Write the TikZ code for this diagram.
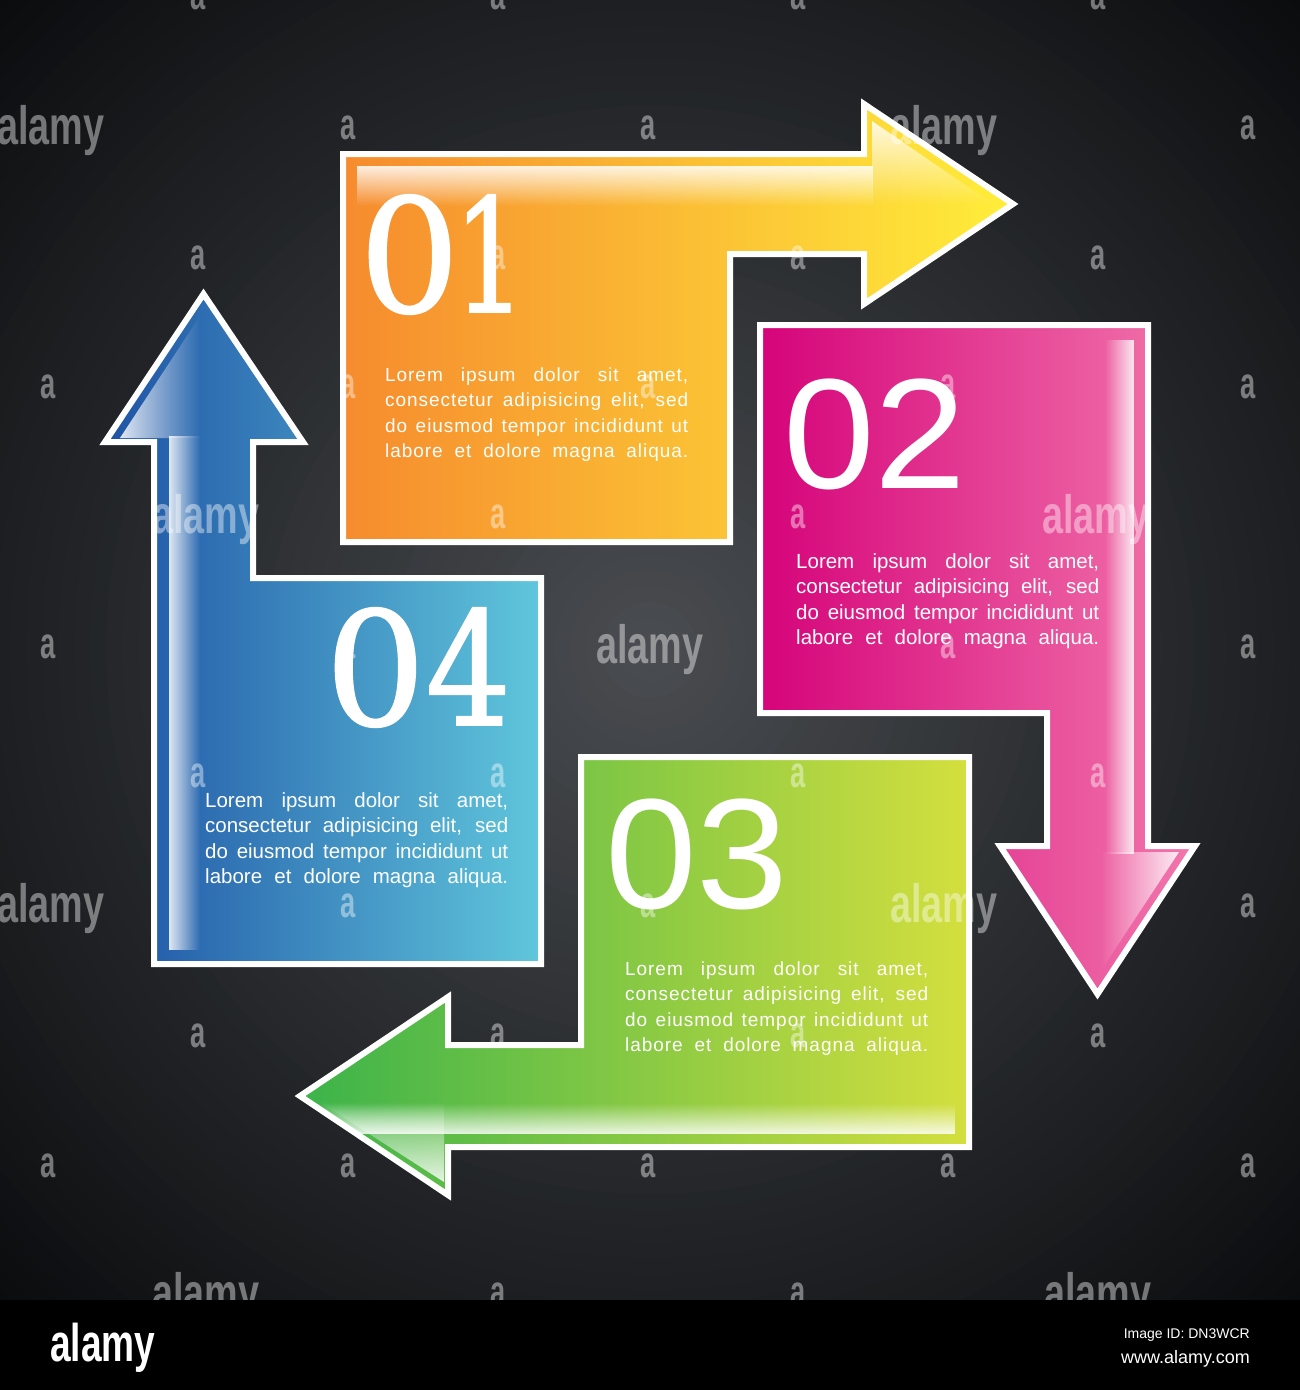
\documentclass[tikz,border=0pt]{standalone}
\usepackage{fontspec}
\setmainfont{Liberation Sans}
\newfontfamily\numserif[FakeBold=1.2]{DejaVu Serif}
\newfontfamily\numsans[FakeStretch=1.05]{Liberation Sans}
\newfontfamily\bodyA[LetterSpace=5]{Liberation Sans}
\newfontfamily\bodyB{Liberation Sans}
\newfontfamily\wmbig[FakeStretch=0.70]{Liberation Sans Bold}
\newfontfamily\wmsmall[FakeStretch=0.62]{Liberation Sans Bold}
\usetikzlibrary{fadings}
\definecolor{bgA}{HTML}{4A4D51}
\definecolor{bgC}{HTML}{1E2023}
\definecolor{bgD}{HTML}{0A0B0D}
\definecolor{oA}{HTML}{F68B2E}
\definecolor{oB}{HTML}{FFEE3A}
\definecolor{pA}{HTML}{D5037A}
\definecolor{pB}{HTML}{F277AC}
\definecolor{gA}{HTML}{3BB34A}
\definecolor{gB}{HTML}{D4DF3E}
\definecolor{bA}{HTML}{1F53A5}
\definecolor{bB}{HTML}{60C7DC}
\tikzfading[name=fdown, top color=transparent!15, bottom color=transparent!100]
\tikzfading[name=fup, bottom color=transparent!15, top color=transparent!100]
\tikzfading[name=fleft, left color=transparent!15, right color=transparent!100]
\tikzfading[name=fright, right color=transparent!15, left color=transparent!100]
\newcommand{\loremblock}{%
  \parbox[t]{303pt}{%
  \makebox[303pt][s]{Lorem ipsum dolor sit amet,}\\
  \makebox[303pt][s]{consectetur adipisicing elit, sed}\\
  \makebox[303pt][s]{do eiusmod tempor incididunt ut}\\
  \makebox[303pt][s]{labore et dolore magna aliqua.}}}
\begin{document}
\begin{tikzpicture}[x=1pt,y=-1pt,
  shapeborder/.style={draw=white, line width=6pt, line join=miter},
  hilite/.style={fill=white, draw=none},
  numA/.style={text=white, inner sep=0pt, anchor=base west, font=\numserif\fontsize{158}{158}\selectfont},
  numB/.style={text=white, inner sep=0pt, anchor=base west, font=\numsans\fontsize{157}{157}\selectfont},
  bodyone/.style={text=white, inner sep=0pt, anchor=base west, font=\bodyA\fontsize{19}{25.6}\selectfont},
  bodytwo/.style={text=white, inner sep=0pt, anchor=base west, font=\bodyB\fontsize{20.5}{25.6}\selectfont},
  wma/.style={text=white, opacity=0.42, inner sep=0pt, font=\wmsmall\fontsize{44}{44}\selectfont},
  wmalamy/.style={text=white, opacity=0.42, inner sep=0pt, anchor=base, font=\wmbig\fontsize{54}{54}\selectfont}]
\useasboundingbox (0,0) rectangle (1300,1390);
\clip (0,0) rectangle (1300,1390);
% background: radial darkening built from concentric discs
\fill[bgD] (0,0) rectangle (1300,1300);
\foreach \i in {0,...,59}{
  \pgfmathsetmacro{\rr}{960-16*\i}
  \pgfmathsetmacro{\pa}{min(100,max(0,(\rr-640)/3))}
  \pgfmathsetmacro{\pb}{min(100,\rr/6.4)}
  \ifdim\rr pt>640pt
    \fill[bgD!\pa!bgC] (650,650) circle (\rr);
  \else
    \fill[bgC!\pb!bgA] (650,650) circle (\rr);
  \fi
}
% shape 01
\path[left color=oA, right color=oB] (343,154) -- (864,154) -- (864,104) -- (1013,204) -- (864,304) -- (864,254) -- (730,254) -- (730,542) -- (343,542) -- cycle;
\begin{scope}
\clip (343,154) -- (864,154) -- (864,104) -- (1013,204) -- (864,304) -- (864,254) -- (730,254) -- (730,542) -- (343,542) -- cycle;
\fill[hilite, path fading=fdown] (357,166) rectangle (874,206);
\fill[hilite, path fading=fdown] (872,121) -- (993,204) -- (872,204) -- cycle;
\end{scope}
\draw[shapeborder] (343,154) -- (864,154) -- (864,104) -- (1013,204) -- (864,304) -- (864,254) -- (730,254) -- (730,542) -- (343,542) -- cycle;
% shape 02
\path[left color=pA, right color=pB] (760,325) -- (1148,325) -- (1148,846) -- (1195,846) -- (1097.5,994) -- (1000,846) -- (1047,846) -- (1047,713) -- (760,713) -- cycle;
\begin{scope}
\clip (760,325) -- (1148,325) -- (1148,846) -- (1195,846) -- (1097.5,994) -- (1000,846) -- (1047,846) -- (1047,713) -- (760,713) -- cycle;
\fill[hilite, path fading=fright] (1105,340) rectangle (1134,854);
\fill[hilite, path fading=fright] (1103,852) -- (1179,852) -- (1100,972) -- cycle;
\end{scope}
\draw[shapeborder] (760,325) -- (1148,325) -- (1148,846) -- (1195,846) -- (1097.5,994) -- (1000,846) -- (1047,846) -- (1047,713) -- (760,713) -- cycle;
% shape 03
\path[left color=gA, right color=gB] (969,757) -- (969,1147) -- (448,1147) -- (448,1195) -- (300,1096) -- (448,997) -- (448,1045) -- (581,1045) -- (581,757) -- cycle;
\begin{scope}
\clip (969,757) -- (969,1147) -- (448,1147) -- (448,1195) -- (300,1096) -- (448,997) -- (448,1045) -- (581,1045) -- (581,757) -- cycle;
\fill[hilite, path fading=fup] (318,1103) rectangle (956,1134);
\fill[hilite, path fading=fup] (318,1101) -- (444,1101) -- (444,1182) -- cycle;
\end{scope}
\draw[shapeborder] (969,757) -- (969,1147) -- (448,1147) -- (448,1195) -- (300,1096) -- (448,997) -- (448,1045) -- (581,1045) -- (581,757) -- cycle;
% shape 04
\path[left color=bA, right color=bB] (154,964) -- (541,964) -- (541,578) -- (253,578) -- (253,442) -- (303,442) -- (203.5,294) -- (105,442) -- (154,442) -- cycle;
\begin{scope}
\clip (154,964) -- (541,964) -- (541,578) -- (253,578) -- (253,442) -- (303,442) -- (203.5,294) -- (105,442) -- (154,442) -- cycle;
\fill[hilite, path fading=fleft] (169,436) rectangle (200,950);
\fill[hilite, path fading=fleft] (120,438) -- (200,316) -- (200,438) -- cycle;
\end{scope}
\draw[shapeborder] (154,964) -- (541,964) -- (541,578) -- (253,578) -- (253,442) -- (303,442) -- (203.5,294) -- (105,442) -- (154,442) -- cycle;
% numbers
\node[numA] (n1) at (359,312) {0\kern-6pt\scalebox{0.72}[1]{1}};
\node[numB] (n2) at (783,488) {02};
\node[numB] (n3) at (605,908) {03};
\node[numA] (n4) at (325,725) {0\scalebox{0.85}[1]{4}};
% texts
\node[bodyone] (t1) at (385,381) {\loremblock};
\node[bodytwo] (t2) at (796,568) {\loremblock};
\node[bodyone] (t3) at (625,975) {\loremblock};
\node[bodytwo] (t4) at (205,807) {\loremblock};
% watermarks
\foreach \wy/\wxs in {-2/{198,498,798,1098}, 128/{348,648,1248}, 258/{198,498,798,1098}, 387/{48,348,648,948,1248}, 517/{498,798}, 647/{48,348,948,1248}, 776/{198,498,798,1098}, 906/{348,648,1248}, 1036/{198,498,798,1098}, 1166/{48,348,648,948,1248}, 1295/{498,798}}{
  \foreach \wx in \wxs {\node[wma] (wa-\wx-\wy) at (\wx,\wy) {a};}
}
\foreach \wx/\wy in {51/128, 944/128, 206/517, 1096/517, 650/647, 51/906, 944/906, 206/1295, 1098/1295}{
  \node[wmalamy] (wl-\wx-\wy) at (\wx,\wy+16) {alamy};
}
% bottom bar
\fill[black] (0,1300) rectangle (1300,1390);
\node[text=white, inner sep=0pt, anchor=base west, font=\wmbig\fontsize{53}{53}\selectfont] (logo) at (50,1361) {alamy};
\node[text=white, inner sep=0pt, anchor=base east, font=\fontsize{14}{14}\selectfont] (imgid) at (1250,1338) {Image ID: DN3WCR};
\node[text=white, inner sep=0pt, anchor=base east, font=\fontsize{18}{18}\selectfont] (url) at (1250,1363) {www.alamy.com};
\end{tikzpicture}
\end{document}
